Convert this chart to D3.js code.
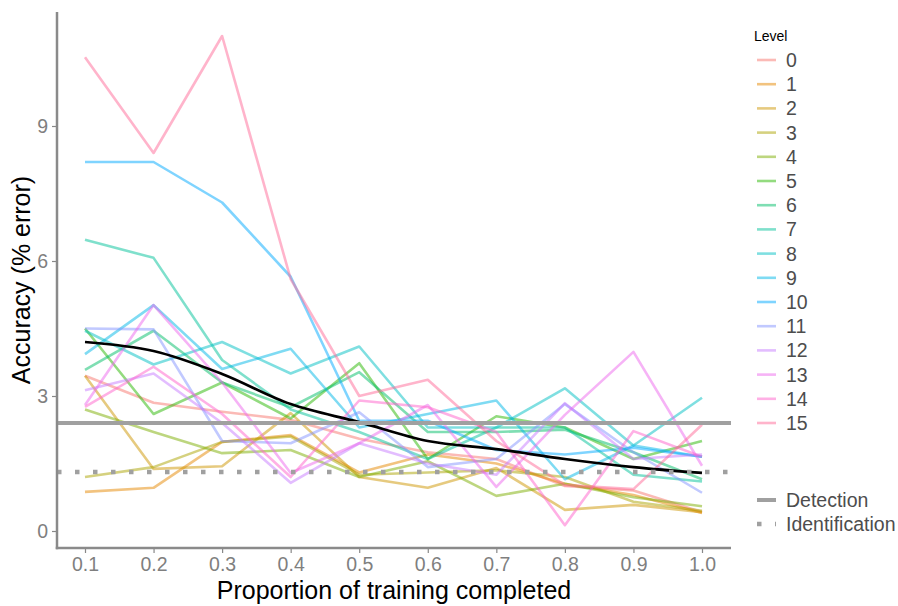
<!DOCTYPE html>
<html><head><meta charset="utf-8">
<script src="https://cdn.jsdelivr.net/npm/d3@7"></script>
<style>body{margin:0;background:#fff}svg{font-family:"Liberation Sans",Arial,sans-serif}</style>
</head><body><svg id="c" width="898" height="606"></svg>
<script>
const props = [0.1,0.2,0.3,0.4,0.5,0.6,0.7,0.8,0.9,1.0];
const levels = ["0","1","2","3","4","5","6","7","8","9","10","11","12","13","14","15"];
const levelColors = ["#F8766D","#E58700","#CD9600","#ABA300","#7CAE00","#27B700","#00BE67","#00C19A","#00BFC4","#00B8E7","#00A9FF","#8494FF","#C77CFF","#ED68ED","#FF61CC","#FF6A98"];
const L0  = [3.45,2.85,2.65,2.47,2.05,1.75,1.6,1.0,0.9,0.42];
const L1  = [0.87,0.96,1.98,2.13,1.3,1.7,1.5,1.05,0.8,0.4];
const L2  = [3.45,1.38,1.44,2.62,1.2,0.96,1.4,0.47,0.58,0.42];
const L3  = [1.2,1.42,1.98,2.1,1.25,1.3,1.35,1.2,0.65,0.45];
const L4  = [2.7,2.2,1.73,1.8,1.2,1.55,0.78,1.05,0.75,0.55];
const L5  = [4.5,2.6,3.3,2.5,3.73,1.6,2.55,2.3,1.6,2.0];
const L6  = [3.58,4.45,3.3,2.75,3.53,2.2,2.2,2.25,1.75,1.15];
const L7  = [6.47,6.07,3.8,2.7,2.2,1.6,2.3,2.3,1.25,1.1];
const L8  = [4.45,3.7,4.2,3.5,4.1,2.3,2.3,3.17,1.9,2.96];
const L9  = [3.93,5.02,3.6,4.05,2.3,2.6,2.9,1.15,1.9,1.65];
const L10 = [8.2,8.2,7.3,5.65,2.45,2.45,1.8,1.7,1.85,1.65];
const L11 = [4.5,4.48,2.0,1.95,2.64,1.42,1.6,2.82,1.75,0.85];
const L12 = [3.13,3.5,2.4,1.07,1.95,1.5,1.25,2.84,1.6,1.7];
const L13 = [2.8,5.02,3.3,1.29,1.95,2.8,0.98,2.58,3.98,1.45];
const L14 = [2.76,3.65,2.6,1.2,2.9,2.75,2.2,0.13,2.22,1.65];
const L15 = [10.53,8.4,11.0,5.6,3.0,3.36,2.0,1.02,0.93,2.36];
const seriesValues = [L0,L1,L2,L3,L4,L5,L6,L7,L8,L9,L10,L11,L12,L13,L14,L15];
const meanValues = [4.2,4.0,3.49,2.82,2.42,2.0,1.82,1.6,1.42,1.29];
const detection = 2.4;
const identification = 1.31;
const yTicks = [0,3,6,9];
const xTicks = props;

const svg = d3.select("#c");
const pLeft = 57, pRight = 731, pTop = 12, pBottom = 548;
const x = d3.scaleLinear().domain([0.1,1.0]).range([85,702]);
const y = d3.scaleLinear().domain([0,9]).range([531,126]);

const line = d3.line().x((d,i)=>x(props[i])).y(d=>y(d));
const g = svg.append("g");
seriesValues.forEach((vals,k)=>{
  g.append("path").attr("d",line(vals)).attr("fill","none")
   .attr("stroke",levelColors[k]).attr("stroke-opacity",0.5).attr("stroke-width",2.6)
   .attr("stroke-linejoin","round");
});
g.append("path").attr("d",d3.line().x((d,i)=>x(props[i])).y(d=>y(d)).curve(d3.curveCatmullRom)(meanValues))
 .attr("fill","none").attr("stroke","#000").attr("stroke-width",2.7);

g.append("line").attr("x1",pLeft).attr("x2",pRight).attr("y1",y(detection)).attr("y2",y(detection))
 .attr("stroke","#a0a0a0").attr("stroke-width",4);
g.append("line").attr("x1",pLeft).attr("x2",pRight).attr("y1",y(identification)).attr("y2",y(identification))
 .attr("stroke","#a0a0a0").attr("stroke-width",4.5).attr("stroke-dasharray","4.5,13.5");

// axes
const xAxis = svg.append("g").attr("transform",`translate(0,${pBottom})`)
  .call(d3.axisBottom(x).tickValues(xTicks).tickFormat(d3.format(".1f")).tickSize(5).tickPadding(4));
const yAxis = svg.append("g").attr("transform",`translate(${pLeft},0)`)
  .call(d3.axisLeft(y).tickValues(yTicks).tickSize(5).tickPadding(4));
[xAxis,yAxis].forEach(a=>{
  a.select(".domain").remove();
  a.selectAll(".tick line").attr("stroke","#888").attr("stroke-width",1.2);
  a.selectAll("text").attr("fill","#7f7f7f").style("font-size","19.5px").style("font-family","Liberation Sans, Arial, sans-serif");
});
svg.append("line").attr("x1",pLeft).attr("x2",pLeft).attr("y1",pTop).attr("y2",pBottom+1.25).attr("stroke","#8a8a8a").attr("stroke-width",2.5);
svg.append("line").attr("x1",pLeft-1.25).attr("x2",pRight).attr("y1",pBottom).attr("y2",pBottom).attr("stroke","#8a8a8a").attr("stroke-width",2.5);

svg.append("text").attr("x",(pLeft+pRight)/2).attr("y",599).attr("text-anchor","middle")
  .style("font-size","25px").attr("fill","#000").text("Proportion of training completed");
svg.append("text").attr("transform",`translate(30,${(pTop+pBottom)/2}) rotate(-90)`).attr("text-anchor","middle")
  .style("font-size","25px").attr("fill","#000").text("Accuracy (% error)");

// legend
const lg = svg.append("g");
lg.append("text").attr("x",754).attr("y",41).style("font-size","14px").attr("fill","#000").text("Level");
levels.forEach((lv,i)=>{
  const yy = 60 + i*24.2;
  lg.append("line").attr("x1",757).attr("x2",776).attr("y1",yy).attr("y2",yy)
    .attr("stroke",levelColors[i]).attr("stroke-opacity",0.5).attr("stroke-width",2.6);
  lg.append("text").attr("x",786).attr("y",yy+7).style("font-size","19.5px").attr("fill","#4d4d4d").text(lv);
});
lg.append("line").attr("x1",757).attr("x2",776).attr("y1",500).attr("y2",500).attr("stroke","#a0a0a0").attr("stroke-width",4);
lg.append("text").attr("x",786).attr("y",507).style("font-size","19.5px").attr("fill","#4d4d4d").text("Detection");
lg.append("line").attr("x1",757).attr("x2",776).attr("y1",524).attr("y2",524).attr("stroke","#a0a0a0").attr("stroke-width",4.5).attr("stroke-dasharray","4.5,13.5");
lg.append("text").attr("x",786).attr("y",531).style("font-size","19.5px").attr("fill","#4d4d4d").text("Identification");
</script></body></html>
